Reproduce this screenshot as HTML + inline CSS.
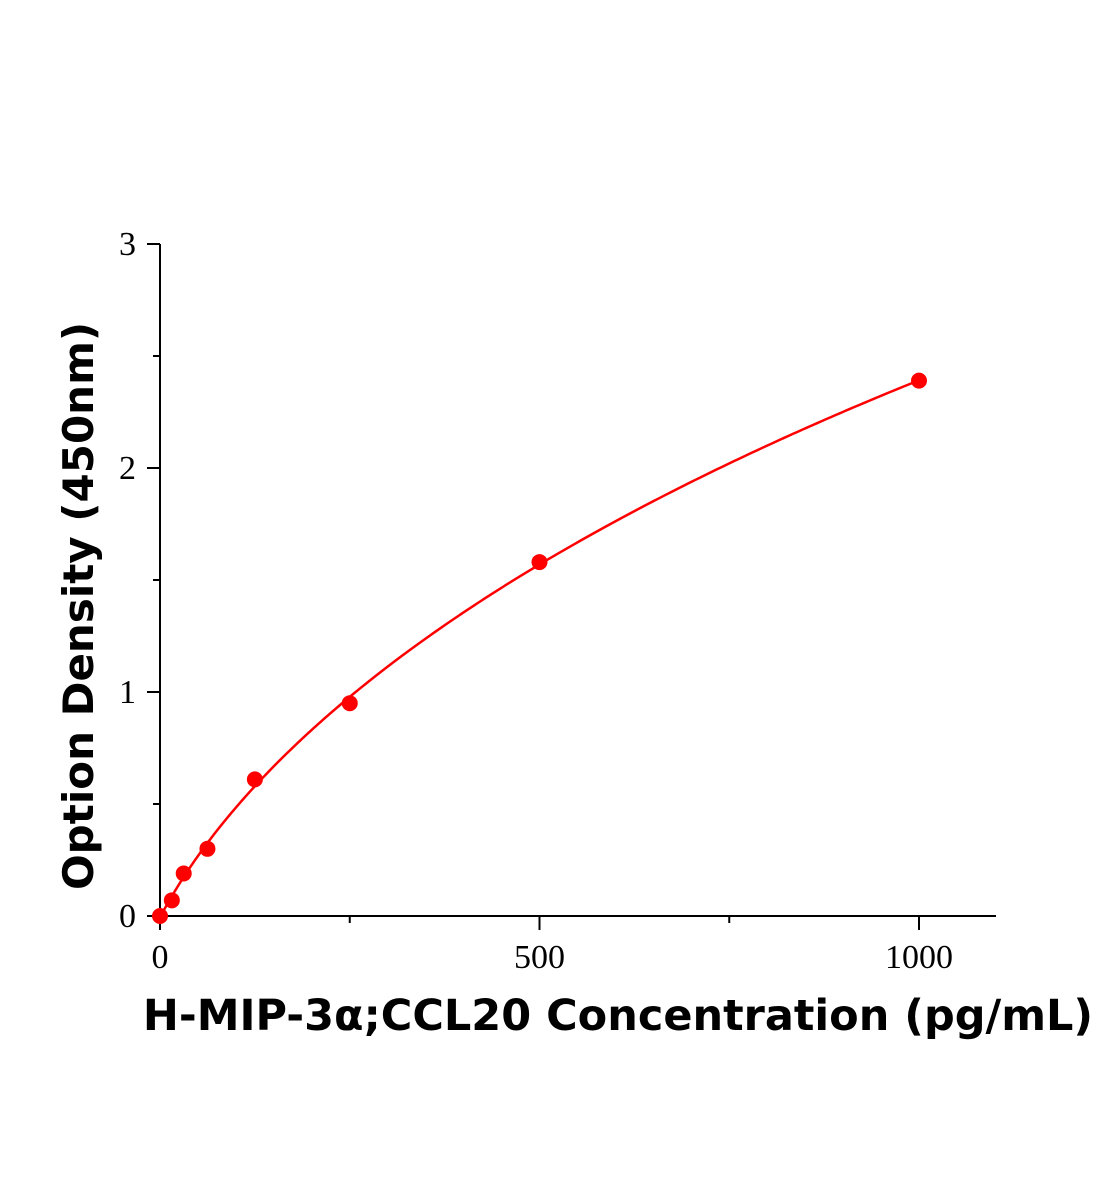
<!DOCTYPE html>
<html><head><meta charset="utf-8"><style>
html,body{margin:0;padding:0;background:#fff;}
svg{display:block;}
</style></head><body>
<svg id="chart" width="1104" height="1200" viewBox="0 0 1104 1200" xmlns="http://www.w3.org/2000/svg">
<g id="axes"></g>
<g id="marks"></g>
<text x="618" y="1030" text-anchor="middle" font-family="'DejaVu Sans', 'Liberation Sans', sans-serif" font-weight="bold" font-size="43">H-MIP-3α;CCL20 Concentration (pg/mL)</text>
<text transform="translate(93,606) rotate(-90)" text-anchor="middle" font-family="'DejaVu Sans', 'Liberation Sans', sans-serif" font-weight="bold" font-size="42">Option Density (450nm)</text>
</svg>
<script>
const concentrations = [0, 15.6, 31.25, 62.5, 125, 250, 500, 1000];
const odValues = [0, 0.07, 0.19, 0.30, 0.61, 0.95, 1.58, 2.39];
const xTickLabels = ["0", "500", "1000"];
const xTickValues = [0, 500, 1000];
const xMinorValues = [250, 750];
const yTickLabels = ["0", "1", "2", "3"];
const yTickValues = [0, 1, 2, 3];
const yMinorValues = [0.5, 1.5, 2.5];

const NS = "http://www.w3.org/2000/svg";
const X0 = 160, X1000 = 919, Y0 = 916, Y3 = 244;
const xs = v => X0 + v * (X1000 - X0) / 1000;
const ys = v => Y0 - v * (Y0 - Y3) / 3;
function mk(tag, attrs, parent) {
  const e = document.createElementNS(NS, tag);
  for (const k in attrs) e.setAttribute(k, attrs[k]);
  parent.appendChild(e); return e;
}
const axes = document.getElementById('axes');
const marks = document.getElementById('marks');
const font = "'Liberation Serif', serif";

let l = mk('line', {x1: 147, y1: Y0, x2: 996, y2: Y0, stroke: '#000', 'stroke-width': 2}, axes);


l = mk('line', {x1: X0, y1: Y3, x2: X0, y2: 930, stroke: '#000', 'stroke-width': 2}, axes);



xTickValues.forEach((v, i) => {
  const t = mk('line', {x1: xs(v), y1: Y0, x2: xs(v), y2: 930, stroke: '#000', 'stroke-width': 2}, axes);
  
  
  const tx = mk('text', {x: xs(v), y: 968, 'text-anchor': 'middle', 'font-family': font, 'font-size': 34}, axes);
  
  
  tx.textContent = xTickLabels[i];
});
xMinorValues.forEach(v => {
  const t = mk('line', {x1: xs(v), y1: Y0, x2: xs(v), y2: 923, stroke: '#000', 'stroke-width': 2}, axes);
  
  
});
yTickValues.forEach((v, i) => {
  const t = mk('line', {x1: 147, y1: ys(v), x2: X0, y2: ys(v), stroke: '#000', 'stroke-width': 2}, axes);
  
  
  const tx = mk('text', {x: 136, y: ys(v) + 11, 'text-anchor': 'end', 'font-family': font, 'font-size': 34}, axes);
  
  
  tx.textContent = yTickLabels[i];
});
yMinorValues.forEach(v => {
  const t = mk('line', {x1: 153, y1: ys(v), x2: X0, y2: ys(v), stroke: '#000', 'stroke-width': 2}, axes);
  
  
});

// weighted quadratic fit in log-log space (weights y^2), from the data
const rows = [];
concentrations.forEach((c, i) => {
  if (c > 0 && odValues[i] > 0) {
    const L = Math.log(c);
    rows.push({f: [1, L, L * L], y: Math.log(odValues[i]), w: odValues[i] * odValues[i]});
  }
});
const A = [[0,0,0],[0,0,0],[0,0,0]], B = [0,0,0];
rows.forEach(r => {
  for (let a = 0; a < 3; a++) {
    B[a] += r.w * r.f[a] * r.y;
    for (let b = 0; b < 3; b++) A[a][b] += r.w * r.f[a] * r.f[b];
  }
});
function solve3(M, v) {
  const m = M.map((row, i) => row.concat([v[i]]));
  for (let i = 0; i < 3; i++) {
    let p = i;
    for (let k = i + 1; k < 3; k++) if (Math.abs(m[k][i]) > Math.abs(m[p][i])) p = k;
    [m[i], m[p]] = [m[p], m[i]];
    for (let k = 0; k < 3; k++) if (k !== i) {
      const f = m[k][i] / m[i][i];
      for (let j = i; j < 4; j++) m[k][j] -= f * m[i][j];
    }
  }
  return [m[0][3] / m[0][0], m[1][3] / m[1][1], m[2][3] / m[2][2]];
}
const coef = solve3(A, B);
const fit = c => {
  if (c <= 0) return 0;
  const L = Math.log(c);
  return Math.exp(coef[0] + coef[1] * L + coef[2] * L * L);
};
let d = 'M' + xs(0) + ',' + ys(0);
const cMax = concentrations[concentrations.length - 1];
for (let k = 1; k <= 300; k++) {
  const c = cMax * Math.pow(k / 300, 2);
  d += 'L' + xs(c).toFixed(2) + ',' + ys(fit(c)).toFixed(2);
}
const curve = mk('path', {d: d, fill: 'none', stroke: '#ff0000', 'stroke-width': 2.5}, marks);



concentrations.forEach((c, i) => {
  const p = mk('circle', {cx: xs(c), cy: ys(odValues[i]), r: 8, fill: '#ff0000'}, marks);
  
  
});
</script>
</body></html>
